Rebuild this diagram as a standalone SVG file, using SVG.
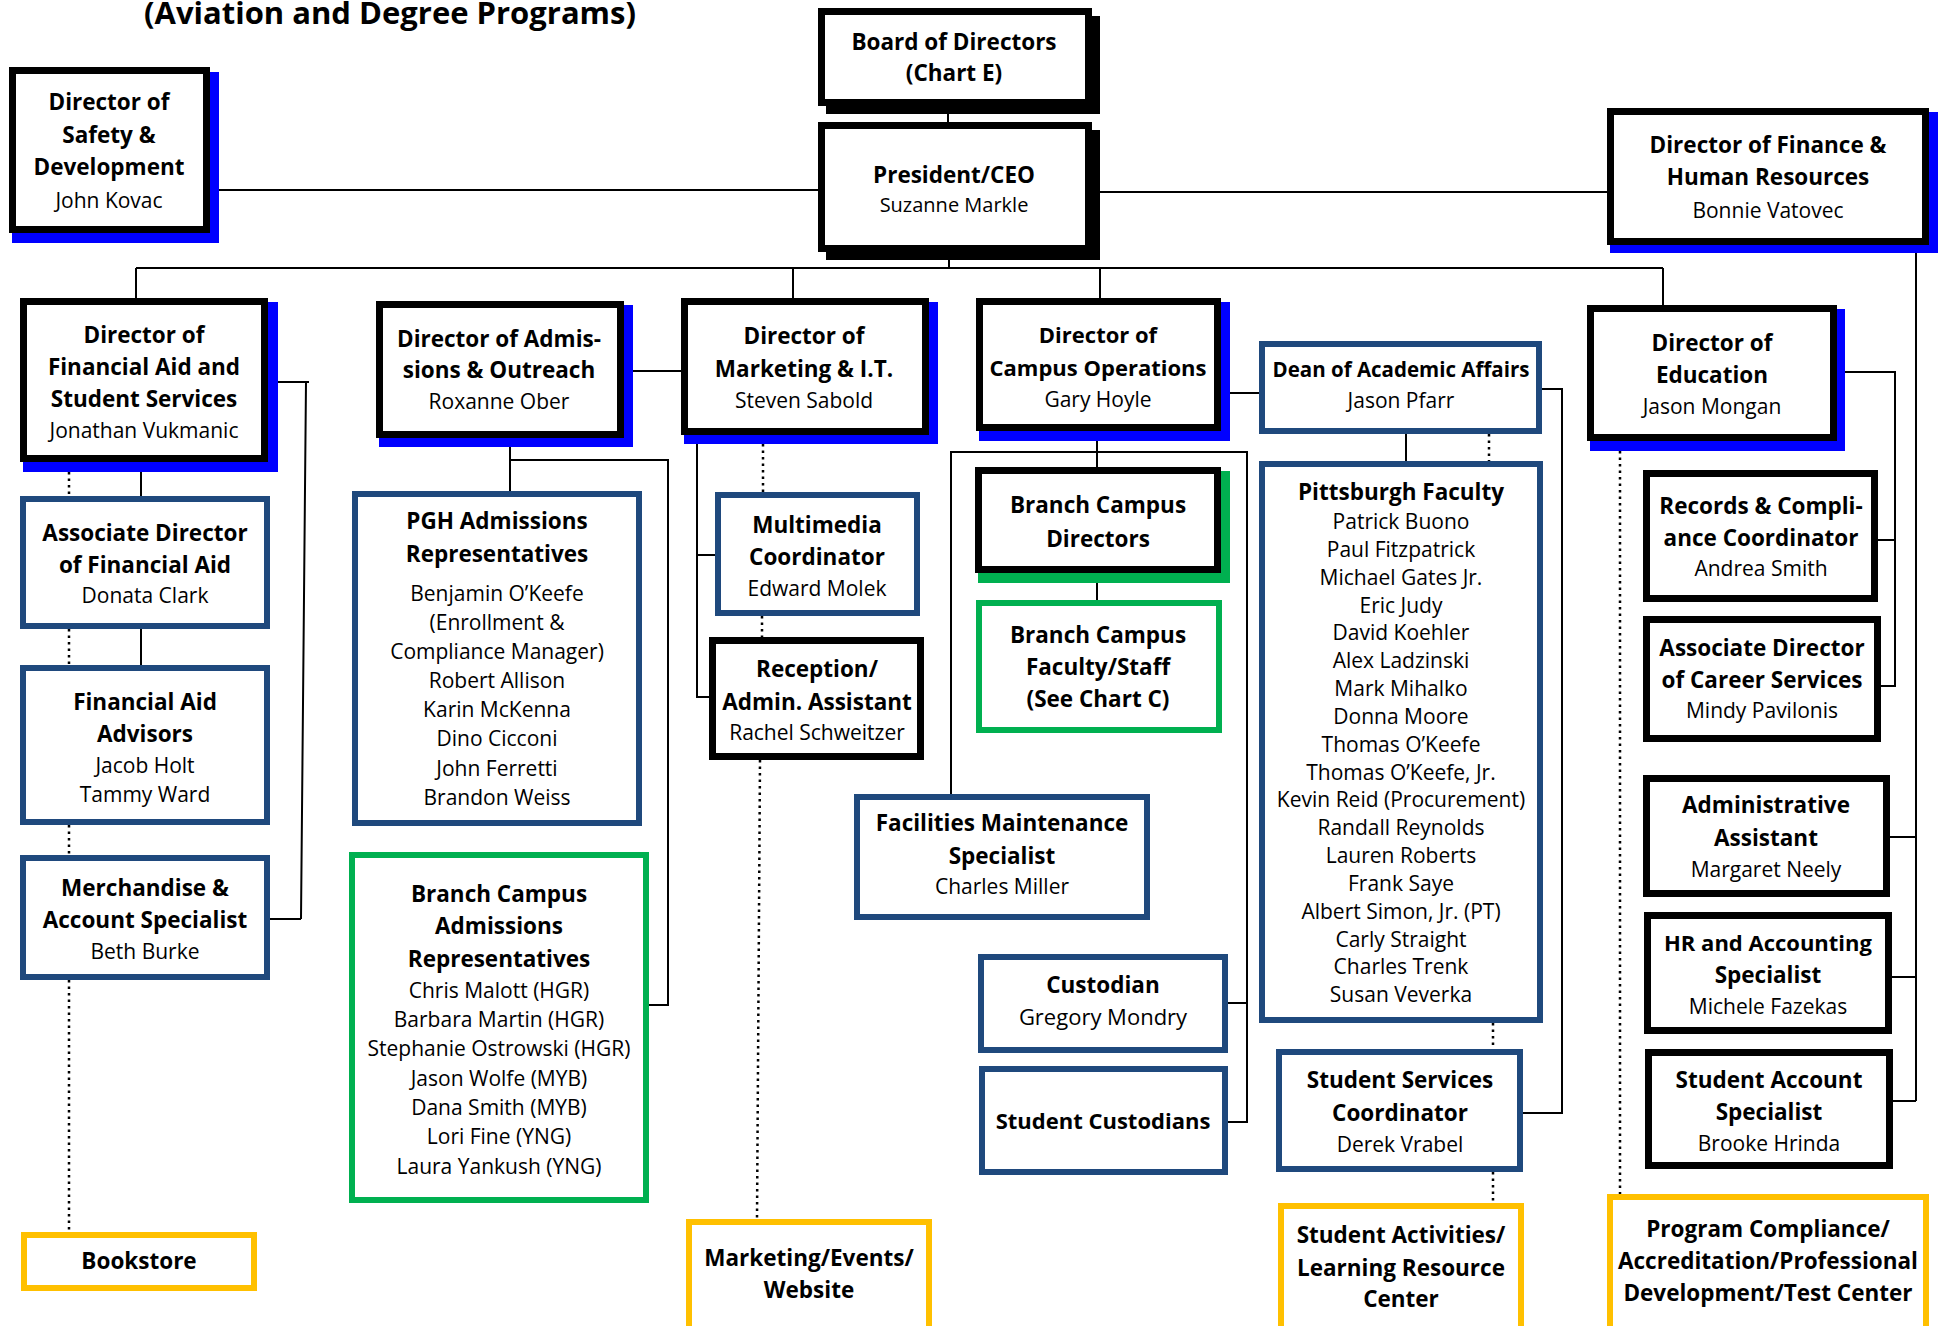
<svg xmlns="http://www.w3.org/2000/svg" width="1940" height="1326" viewBox="0 0 1940 1326">
<style>
text{font-family:"Open Sans","Liberation Sans",sans-serif;fill:#000;text-anchor:middle}
.t{font-weight:bold;font-size:22.5px}
.n{font-size:21px}
.bk{fill:#fff;stroke:#000;stroke-width:7}
.nv{fill:#fff;stroke:#1F497D;stroke-width:6}
.gr{fill:#fff;stroke:#00B050;stroke-width:6}
.yl{fill:#fff;stroke:#FFC000;stroke-width:6}
.sb{fill:#0000FF}
.sk{fill:#000}
.sg{fill:#00B050}
.ln{fill:none;stroke:#000;stroke-width:2}
.dt{fill:none;stroke:#000;stroke-width:2.5;stroke-dasharray:2.5 4}
</style>
<rect width="1940" height="1326" fill="#fff"/>
<text class="t" x="390" y="24" style="font-size:31px">(Aviation and Degree Programs)</text>

<g id="connectors">
<path class="ln" d="M948,114 V122"/>
<path class="ln" d="M210,190 H818"/>
<path class="ln" d="M1092,192 H1607"/>
<path class="ln" d="M949,260 V268"/>
<path class="ln" d="M136,268 H1663"/>
<path class="ln" d="M136,268 V298 M793,268 V298 M1100,268 V298 M1663,268 V305"/>
<path class="ln" d="M1916,253 V1101 M1890,837 H1916 M1892,977 H1916 M1893,1101 H1916"/>
<path class="ln" d="M141,472 V496 M141,629 V665"/>
<path class="ln" d="M268,382 H309 M306,382 L301,919 M270,919 H301"/>
<path class="ln" d="M624,371 H681"/>
<path class="ln" d="M510,447 V491 M510,460 H668 V1005 H649"/>
<path class="ln" d="M697,435 V697 H709 M697,555 H715"/>
<path class="ln" d="M1221,393 H1259"/>
<path class="ln" d="M1097,441 V467 M1097,583 V600"/>
<path class="ln" d="M951,795 V452 H1247 V1122 H1228 M1228,1003 H1247"/>
<path class="ln" d="M1406,434 V461"/>
<path class="ln" d="M1542,389 H1562 V1113 H1523"/>
<path class="ln" d="M1837,372 H1895 V686 H1881 M1878,540 H1895"/>
<path class="dt" d="M69,472 V496 M69,629 V665 M69,825 V855 M69,980 V1232"/>
<path class="dt" d="M763,444 V492 M762,616 V637 M760,760 L757,1219"/>
<path class="dt" d="M1489,434 V461 M1493,1023 V1049 M1493,1172 V1203"/>
<path class="dt" d="M1620,451 V1194"/>
</g>

<g id="board">
<rect class="sk" x="826" y="16" width="274" height="98"/>
<rect class="bk" x="821.5" y="11.5" width="267" height="91"/>
<text class="t" x="954" y="50">Board of Directors</text>
<text class="t" x="954" y="81">(Chart E)</text>
</g>
<g id="president">
<rect class="sk" x="826" y="130" width="274" height="130"/>
<rect class="bk" x="821.5" y="125.5" width="267" height="123"/>
<text class="t" x="954" y="183">President/CEO</text>
<text class="n" x="954" y="212" style="font-size:20px">Suzanne Markle</text>
</g>
<g id="safety">
<rect class="sb" x="12" y="72" width="207" height="171"/>
<rect class="bk" x="12.5" y="70.5" width="194" height="159"/>
<text class="t" x="109" y="110">Director of</text>
<text class="t" x="109" y="143">Safety &amp;</text>
<text class="t" x="109" y="175">Development</text>
<text class="n" x="109" y="208">John Kovac</text>
</g>
<g id="finance">
<rect class="sb" x="1610" y="112" width="328" height="141"/>
<rect class="bk" x="1610.5" y="111.5" width="315" height="130"/>
<text class="t" x="1768" y="153">Director of Finance &amp;</text>
<text class="t" x="1768" y="185">Human Resources</text>
<text class="n" x="1768" y="218">Bonnie Vatovec</text>
</g>
<g id="finaid-director">
<rect class="sb" x="23" y="302" width="255" height="170"/>
<rect class="bk" x="23.5" y="301.5" width="241" height="157"/>
<text class="t" x="144" y="343">Director of</text>
<text class="t" x="144" y="375">Financial Aid and</text>
<text class="t" x="144" y="407">Student Services</text>
<text class="n" x="144" y="438">Jonathan Vukmanic</text>
</g>
<g id="admissions-director">
<rect class="sb" x="379" y="305" width="254" height="142"/>
<rect class="bk" x="379.5" y="304.5" width="241" height="130"/>
<text class="t" x="499" y="347">Director of Admis-</text>
<text class="t" x="499" y="378">sions &amp; Outreach</text>
<text class="n" x="499" y="409">Roxanne Ober</text>
</g>
<g id="marketing-director">
<rect class="sb" x="684" y="302" width="254" height="142"/>
<rect class="bk" x="684.5" y="301.5" width="241" height="130"/>
<text class="t" x="804" y="344">Director of</text>
<text class="t" x="804" y="377">Marketing &amp; I.T.</text>
<text class="n" x="804" y="408">Steven Sabold</text>
</g>
<g id="campus-ops">
<rect class="sb" x="979" y="302" width="251" height="139"/>
<rect class="bk" x="979.5" y="301.5" width="238" height="126"/>
<text class="t" x="1098" y="343" style="font-size:22px">Director of</text>
<text class="t" x="1098" y="376" style="font-size:22px">Campus Operations</text>
<text class="n" x="1098" y="407">Gary Hoyle</text>
</g>
<g id="dean">
<rect class="nv" x="1262" y="344" width="277" height="87"/>
<text class="t" x="1401" y="377" style="font-size:20.5px">Dean of Academic Affairs</text>
<text class="n" x="1401" y="408">Jason Pfarr</text>
</g>
<g id="education">
<rect class="sb" x="1590" y="309" width="255" height="142"/>
<rect class="bk" x="1590.5" y="308.5" width="243" height="129"/>
<text class="t" x="1712" y="351">Director of</text>
<text class="t" x="1712" y="383">Education</text>
<text class="n" x="1712" y="414">Jason Mongan</text>
</g>

<g id="assoc-finaid">
<rect class="nv" x="23" y="499" width="244" height="127"/>
<text class="t" x="145" y="541">Associate Director</text>
<text class="t" x="145" y="573">of Financial Aid</text>
<text class="n" x="145" y="603">Donata Clark</text>
</g>
<g id="finaid-advisors">
<rect class="nv" x="23" y="668" width="244" height="154"/>
<text class="t" x="145" y="710">Financial Aid</text>
<text class="t" x="145" y="742">Advisors</text>
<text class="n" x="145" y="773">Jacob Holt</text>
<text class="n" x="145" y="802">Tammy Ward</text>
</g>
<g id="merchandise">
<rect class="nv" x="23" y="858" width="244" height="119"/>
<text class="t" x="145" y="896">Merchandise &amp;</text>
<text class="t" x="145" y="928">Account Specialist</text>
<text class="n" x="145" y="959">Beth Burke</text>
</g>
<g id="bookstore">
<rect class="yl" x="24" y="1235" width="230" height="53"/>
<text class="t" x="139" y="1269">Bookstore</text>
</g>

<g id="pgh-admissions">
<rect class="nv" x="355" y="494" width="284" height="329"/>
<text class="t" x="497" y="529">PGH Admissions</text>
<text class="t" x="497" y="562">Representatives</text>
<text class="n" x="497" y="601">Benjamin O’Keefe</text>
<text class="n" x="497" y="630">(Enrollment &amp;</text>
<text class="n" x="497" y="659">Compliance Manager)</text>
<text class="n" x="497" y="688">Robert Allison</text>
<text class="n" x="497" y="717">Karin McKenna</text>
<text class="n" x="497" y="746">Dino Cicconi</text>
<text class="n" x="497" y="776">John Ferretti</text>
<text class="n" x="497" y="805">Brandon Weiss</text>
</g>
<g id="branch-admissions">
<rect class="gr" x="352" y="855" width="294" height="345"/>
<text class="t" x="499" y="902">Branch Campus</text>
<text class="t" x="499" y="934">Admissions</text>
<text class="t" x="499" y="967">Representatives</text>
<text class="n" x="499" y="998">Chris Malott (HGR)</text>
<text class="n" x="499" y="1027">Barbara Martin (HGR)</text>
<text class="n" x="499" y="1056">Stephanie Ostrowski (HGR)</text>
<text class="n" x="499" y="1086">Jason Wolfe (MYB)</text>
<text class="n" x="499" y="1115">Dana Smith (MYB)</text>
<text class="n" x="499" y="1144">Lori Fine (YNG)</text>
<text class="n" x="499" y="1174">Laura Yankush (YNG)</text>
</g>

<g id="multimedia">
<rect class="nv" x="718" y="495" width="199" height="118"/>
<text class="t" x="817" y="533">Multimedia</text>
<text class="t" x="817" y="565">Coordinator</text>
<text class="n" x="817" y="596">Edward Molek</text>
</g>
<g id="reception">
<rect class="bk" x="712.5" y="640.5" width="208" height="116"/>
<text class="t" x="817" y="677">Reception/</text>
<text class="t" x="817" y="710">Admin. Assistant</text>
<text class="n" x="817" y="740">Rachel Schweitzer</text>
</g>
<g id="marketing-events">
<rect class="yl" x="689" y="1222" width="240" height="115"/>
<text class="t" x="809" y="1266">Marketing/Events/</text>
<text class="t" x="809" y="1298">Website</text>
</g>

<g id="branch-directors">
<rect class="sg" x="978" y="471" width="252" height="112"/>
<rect class="bk" x="978.5" y="470.5" width="239" height="99"/>
<text class="t" x="1098" y="513">Branch Campus</text>
<text class="t" x="1098" y="547">Directors</text>
</g>
<g id="branch-faculty">
<rect class="gr" x="979" y="603" width="240" height="127"/>
<text class="t" x="1098" y="643">Branch Campus</text>
<text class="t" x="1098" y="675">Faculty/Staff</text>
<text class="t" x="1098" y="707">(See Chart C)</text>
</g>
<g id="facilities">
<rect class="nv" x="857" y="797" width="290" height="120"/>
<text class="t" x="1002" y="831">Facilities Maintenance</text>
<text class="t" x="1002" y="864">Specialist</text>
<text class="n" x="1002" y="894">Charles Miller</text>
</g>
<g id="custodian">
<rect class="nv" x="981" y="957" width="244" height="93"/>
<text class="t" x="1103" y="993">Custodian</text>
<text class="n" x="1103" y="1025" style="font-size:22px">Gregory Mondry</text>
</g>
<g id="student-custodians">
<rect class="nv" x="982" y="1069" width="243" height="103"/>
<text class="t" x="1103" y="1129" style="font-size:22px">Student Custodians</text>
</g>

<g id="pittsburgh-faculty">
<rect class="nv" x="1262" y="464" width="278" height="556"/>
<text class="t" x="1401" y="500">Pittsburgh Faculty</text>
<text class="n" x="1401" y="529">Patrick Buono</text>
<text class="n" x="1401" y="557">Paul Fitzpatrick</text>
<text class="n" x="1401" y="585">Michael Gates Jr.</text>
<text class="n" x="1401" y="613">Eric Judy</text>
<text class="n" x="1401" y="640">David Koehler</text>
<text class="n" x="1401" y="668">Alex Ladzinski</text>
<text class="n" x="1401" y="696">Mark Mihalko</text>
<text class="n" x="1401" y="724">Donna Moore</text>
<text class="n" x="1401" y="752">Thomas O’Keefe</text>
<text class="n" x="1401" y="780">Thomas O’Keefe, Jr.</text>
<text class="n" x="1401" y="807">Kevin Reid (Procurement)</text>
<text class="n" x="1401" y="835">Randall Reynolds</text>
<text class="n" x="1401" y="863">Lauren Roberts</text>
<text class="n" x="1401" y="891">Frank Saye</text>
<text class="n" x="1401" y="919">Albert Simon, Jr. (PT)</text>
<text class="n" x="1401" y="947">Carly Straight</text>
<text class="n" x="1401" y="974">Charles Trenk</text>
<text class="n" x="1401" y="1002">Susan Veverka</text>
</g>
<g id="student-services">
<rect class="nv" x="1279" y="1052" width="241" height="117"/>
<text class="t" x="1400" y="1088">Student Services</text>
<text class="t" x="1400" y="1121">Coordinator</text>
<text class="n" x="1400" y="1152">Derek Vrabel</text>
</g>
<g id="student-activities">
<rect class="yl" x="1281" y="1206" width="240" height="130"/>
<text class="t" x="1401" y="1243">Student Activities/</text>
<text class="t" x="1401" y="1276">Learning Resource</text>
<text class="t" x="1401" y="1307">Center</text>
</g>

<g id="records">
<rect class="bk" x="1646.5" y="473.5" width="228" height="125"/>
<text class="t" x="1761" y="514">Records &amp; Compli-</text>
<text class="t" x="1761" y="546">ance Coordinator</text>
<text class="n" x="1761" y="576">Andrea Smith</text>
</g>
<g id="career-services">
<rect class="bk" x="1646.5" y="619.5" width="231" height="119"/>
<text class="t" x="1762" y="656">Associate Director</text>
<text class="t" x="1762" y="688">of Career Services</text>
<text class="n" x="1762" y="718">Mindy Pavilonis</text>
</g>
<g id="admin-assistant">
<rect class="bk" x="1646.5" y="778.5" width="240" height="115"/>
<text class="t" x="1766" y="813">Administrative</text>
<text class="t" x="1766" y="846">Assistant</text>
<text class="n" x="1766" y="877">Margaret Neely</text>
</g>
<g id="hr-accounting">
<rect class="bk" x="1647.5" y="915.5" width="241" height="115"/>
<text class="t" x="1768" y="951" style="font-size:22px">HR and Accounting</text>
<text class="t" x="1768" y="983">Specialist</text>
<text class="n" x="1768" y="1014">Michele Fazekas</text>
</g>
<g id="student-account">
<rect class="bk" x="1648.5" y="1052.5" width="241" height="113"/>
<text class="t" x="1769" y="1088">Student Account</text>
<text class="t" x="1769" y="1120">Specialist</text>
<text class="n" x="1769" y="1151">Brooke Hrinda</text>
</g>
<g id="program-compliance">
<rect class="yl" x="1610" y="1197" width="316" height="140"/>
<text class="t" x="1768" y="1237">Program Compliance/</text>
<text class="t" x="1768" y="1269">Accreditation/Professional</text>
<text class="t" x="1768" y="1301">Development/Test Center</text>
</g>
</svg>
